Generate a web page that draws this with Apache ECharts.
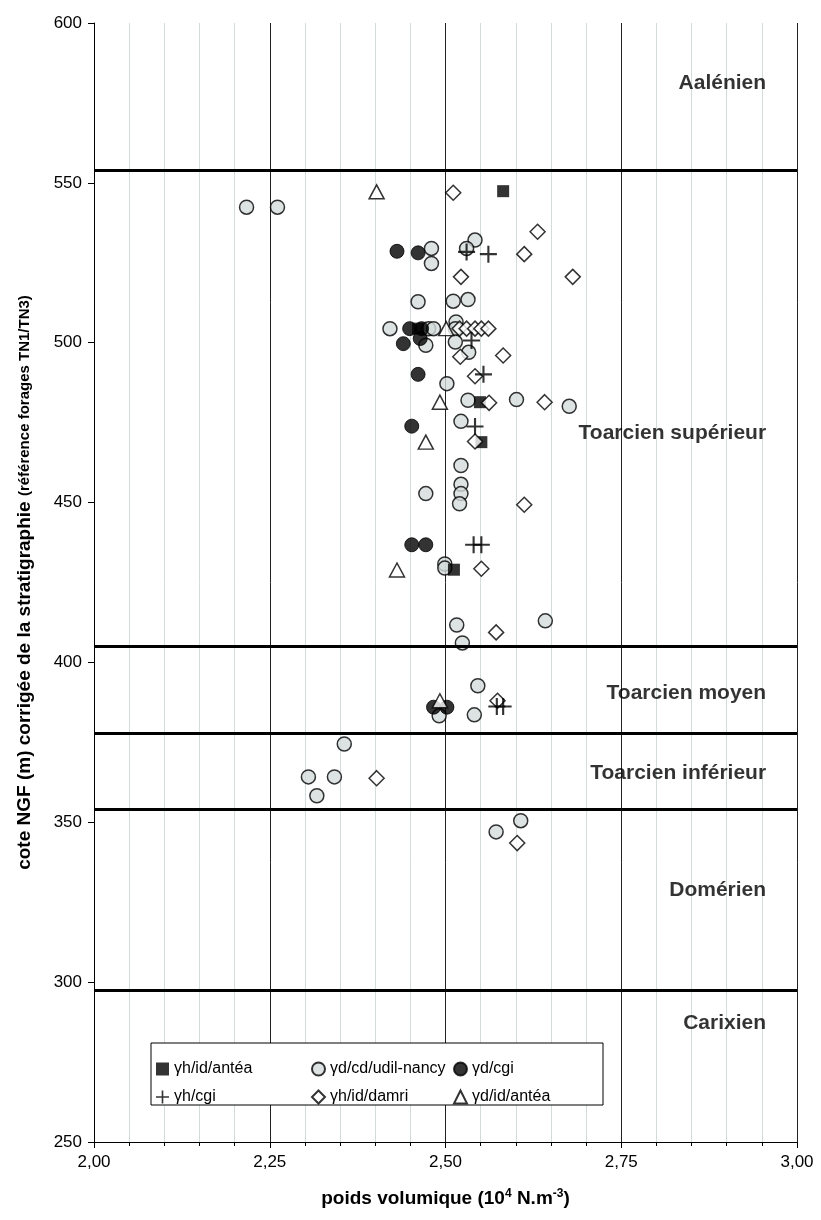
<!DOCTYPE html>
<html><head><meta charset="utf-8">
<script src="https://cdn.jsdelivr.net/npm/echarts@6/dist/echarts.min.js"></script>
<style>html,body{margin:0;padding:0;background:#fff}#c{width:821px;height:1220px}</style>
</head><body><div id="c"></div>
<script>
// ---- data (x = poids volumique, y = cote NGF) ----
const hIdAntea = [[2.582,547.4],[2.461,504.4],[2.549,481.4],[2.551,468.9],[2.512,429.0]];
const dCdUdil = [[2.217,542.4],[2.261,542.4],[2.542,532.1],[2.530,529.5],[2.480,529.5],[2.480,524.8],
  [2.461,512.8],[2.511,513.0],[2.532,513.5],[2.421,504.4],[2.476,504.4],[2.483,504.4],[2.515,506.5],
  [2.514,504.4],[2.472,499.2],[2.514,500.2],[2.533,497.0],[2.502,487.2],[2.532,482.0],[2.601,482.2],
  [2.676,480.1],[2.522,475.4],[2.522,461.6],[2.522,455.7],[2.522,452.8],[2.520,449.6],[2.472,452.8],
  [2.499,430.8],[2.499,429.5],[2.516,411.7],[2.642,413.0],[2.524,406.1],[2.546,392.7],[2.491,383.3],
  [2.541,383.6],[2.356,374.5],[2.305,364.2],[2.342,364.2],[2.317,358.3],[2.607,350.5],[2.572,347.0]];
const dCgi = [[2.431,528.6],[2.461,528.1],[2.449,504.4],[2.466,504.4],[2.440,499.7],[2.464,501.3],
  [2.461,490.1],[2.452,473.9],[2.452,436.8],[2.472,436.8],[2.483,386.0],[2.502,386.0]];
const hCgi = [[2.530,528.4],[2.561,527.7],[2.537,500.7],[2.554,490.1],[2.542,473.8],[2.540,436.8],
  [2.551,436.8],[2.573,386.2],[2.582,386.2]];
const hIdDamri = [[2.511,546.9],[2.631,534.7],[2.612,527.7],[2.522,520.6],[2.681,520.6],[2.520,504.4],
  [2.530,504.4],[2.542,504.4],[2.551,504.4],[2.561,504.4],[2.521,495.6],[2.582,496.0],[2.542,489.5],
  [2.562,481.2],[2.641,481.4],[2.542,469.1],[2.612,449.3],[2.551,429.3],[2.572,409.4],[2.574,388.0],
  [2.402,363.8],[2.602,343.5]];
const dIdAntea = [[2.402,547.2],[2.501,504.4],[2.492,481.4],[2.472,468.9],[2.431,428.9],[2.492,388.0]];

const boundaries = [554, 405, 378, 354, 297.5];
const zoneNames = ['Aalénien','Toarcien supérieur','Toarcien moyen','Toarcien inférieur','Domérien','Carixien'];
const zoneY = [581.2, 471.6, 390.5, 365.5, 328.9, 287.2];
const seriesNames = ['γh/id/antéa','γd/cd/udil-nancy','γd/cgi','γh/cgi','γh/id/damri','γd/id/antéa'];

const FONT = 'Liberation Sans, Arial, sans-serif';
const plusPath = 'path://M7,0h2v7h7v2h-7v7h-2v-7h-7v-2h7z';

const chart = echarts.init(document.getElementById('c'), null, {renderer:'canvas'});
const zoneData = zoneNames.map((n,i)=>({value:[2.956, zoneY[i]], name:n}));
const legText = {fontFamily:FONT,fontSize:16,color:'#000'};

chart.setOption({
  animation:false,
  backgroundColor:'#fff',
  grid:{left:94, right:24, top:23, bottom:78},
  xAxis:{type:'value', min:2, max:3, interval:0.25,
    name:'{b|poids volumique (10}{s|4}{b| N.m}{s|-3}{b|)}', nameLocation:'middle', nameGap:46,
    nameTextStyle:{rich:{b:{fontFamily:FONT,fontWeight:'bold',fontSize:19,color:'#000'},
      s:{fontFamily:FONT,fontWeight:'bold',fontSize:12,color:'#000',verticalAlign:'top',padding:[0,0,10,0]}}},
    axisLine:{show:true,onZero:false,lineStyle:{color:'#000',width:1}},
    axisTick:{show:true,length:6,lineStyle:{color:'#000'}},
    minorTick:{show:true,splitNumber:5,length:4,lineStyle:{color:'#000'}},
    axisLabel:{fontFamily:FONT,fontSize:17,color:'#000',margin:12,
      formatter:v=>v.toFixed(2).replace('.',',')},
    splitLine:{show:true,lineStyle:{color:'#222',width:1}},
    minorSplitLine:{show:true,lineStyle:{color:'#d3dcdc',width:1}}
  },
  yAxis:{type:'value', min:250, max:600, interval:50,
    name:'{b|cote NGF (m) corrigée de la stratigraphie }{s|(référence forages TN1/TN3)}',
    nameLocation:'middle', nameGap:60, nameRotate:90,
    nameTextStyle:{rich:{b:{fontFamily:FONT,fontWeight:'bold',fontSize:19,color:'#000'},
      s:{fontFamily:FONT,fontWeight:'bold',fontSize:15,color:'#000'}}},
    axisLine:{show:true,onZero:false,lineStyle:{color:'#000',width:1}},
    axisTick:{show:true,length:6,lineStyle:{color:'#000'}},
    axisLabel:{fontFamily:FONT,fontSize:17,color:'#000',margin:12},
    splitLine:{show:false}
  },
  graphic:[{type:'rect', z:10, shape:{x:151,y:1043,width:452,height:62},
    style:{fill:'#fff',stroke:'#000',lineWidth:1}}],
  legend:[
    {z:20,orient:'vertical',left:151,top:1056,itemGap:12,itemWidth:13,itemHeight:13,
      data:[seriesNames[0],seriesNames[3]],textStyle:legText},
    {z:20,orient:'vertical',left:306,top:1056,itemGap:12,itemWidth:13,itemHeight:13,
      data:[seriesNames[1],seriesNames[4]],textStyle:legText},
    {z:20,orient:'vertical',left:448,top:1056,itemGap:12,itemWidth:13,itemHeight:13,
      data:[seriesNames[2],seriesNames[5]],textStyle:legText}
  ],
  series:[
    {type:'scatter', name:'boundaries', data:[], silent:true,
      markLine:{silent:true, symbol:['none','none'], label:{show:false},
        lineStyle:{color:'#000',width:3,type:'solid'},
        data:boundaries.map(b=>({yAxis:b}))}},
    {type:'scatter', name:'zones', data:zoneData, symbolSize:0, silent:true,
      label:{show:true, position:'left', distance:0, formatter:p=>p.name,
        fontFamily:FONT, fontWeight:'bold', fontSize:21, color:'#000'}},
    {type:'scatter', name:seriesNames[1], data:dCdUdil, symbol:'circle', symbolSize:14,
      itemStyle:{color:'#d3dcdb',borderColor:'#000',borderWidth:1.5}},
    {type:'scatter', name:seriesNames[2], data:dCgi, symbol:'circle', symbolSize:14,
      itemStyle:{color:'#000',borderColor:'#000',borderWidth:1}},
    {type:'scatter', name:seriesNames[0], data:hIdAntea, symbol:'rect', symbolSize:12,
      itemStyle:{color:'#000'}},
    {type:'scatter', name:seriesNames[5], data:dIdAntea, symbol:'triangle', symbolSize:[15,14],
      itemStyle:{color:'#fff',borderColor:'#000',borderWidth:1.5}},
    {type:'scatter', name:seriesNames[4], data:hIdDamri, symbol:'diamond', symbolSize:[15,15],
      itemStyle:{color:'#fff',borderColor:'#000',borderWidth:1.5}},
    {type:'scatter', name:seriesNames[3], data:hCgi, symbol:plusPath, symbolSize:17,
      itemStyle:{color:'#000'}}
  ]
});
</script></body></html>
